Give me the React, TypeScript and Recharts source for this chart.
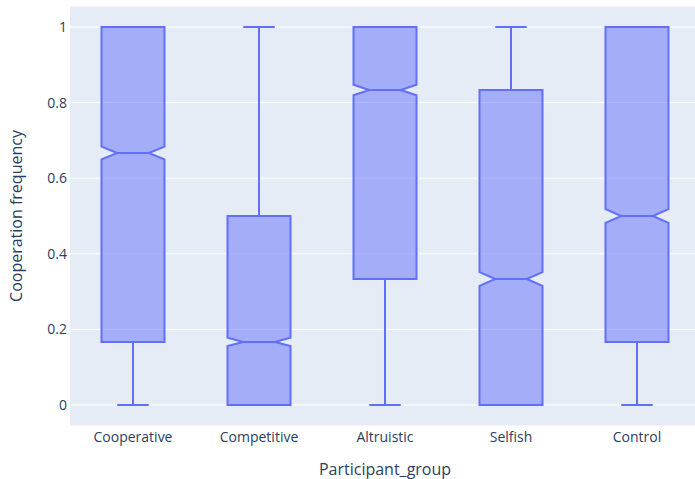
import { ComposedChart, Bar, XAxis, YAxis, CartesianGrid } from 'recharts'

// Box statistics per participant group (cooperation frequency, 0..1)
const groups = ['Cooperative', 'Competitive', 'Altruistic', 'Selfish', 'Control']
const lowerFence = [0, 0, 0, 0, 0]
const q1 = [0.1667, 0, 0.3333, 0, 0.1667]
const median = [0.6667, 0.1667, 0.8333, 0.3333, 0.5]
const q3 = [1, 0.5, 1, 0.8333, 1]
const upperFence = [1, 1, 1, 1, 1]
// half-height of the notch around the median
const notchSpan = [0.017, 0.011, 0.014, 0.018, 0.018]

const yTicks = [0, 0.2, 0.4, 0.6, 0.8, 1]

const LINE = '#636efa'
const FILL = 'rgba(99,110,250,0.5)'
const TEXT = '#2a3f5f'
const FONT = '"Open Sans", sans-serif'

const data = groups.map((group, i) => ({
  group,
  range: [lowerFence[i], upperFence[i]],
  lo: lowerFence[i],
  q1: q1[i],
  median: median[i],
  q3: q3[i],
  hi: upperFence[i],
  notch: notchSpan[i],
}))

function NotchedBox(props: any) {
  const { x, y, width, height, payload } = props
  if (width == null || payload == null) return null
  const top = Math.min(y, y + height)
  const bottom = Math.max(y, y + height)
  const { lo, hi } = payload
  // bar spans lo..hi, so map any value linearly inside it
  const py = (v: number) => bottom - ((v - lo) / (hi - lo)) * (bottom - top)

  const xl = x
  const xr = x + width
  const cx = x + width / 2
  const inset = width / 4

  const yq1 = py(payload.q1)
  const yq3 = py(payload.q3)
  const ym = py(payload.median)
  const nLo = py(Math.max(payload.q1, payload.median - payload.notch))
  const nHi = py(Math.min(payload.q3, payload.median + payload.notch))

  const box = [
    `M${xl},${yq1}`,
    `L${xl},${nLo}`,
    `L${xl + inset},${ym}`,
    `L${xl},${nHi}`,
    `L${xl},${yq3}`,
    `L${xr},${yq3}`,
    `L${xr},${nHi}`,
    `L${xr - inset},${ym}`,
    `L${xr},${nLo}`,
    `L${xr},${yq1}`,
    'Z',
  ].join(' ')

  const yLo = py(lo)
  const yHi = py(hi)

  return (
    <g stroke={LINE} strokeWidth={2} fill="none">
      <path d={`M${cx},${yq3} L${cx},${yHi}`} />
      <path d={`M${cx},${yq1} L${cx},${yLo}`} />
      <path d={`M${cx - inset},${yHi} L${cx + inset},${yHi}`} />
      <path d={`M${cx - inset},${yLo} L${cx + inset},${yLo}`} />
      <path d={box} fill={FILL} strokeLinejoin="miter" />
      <path d={`M${xl + inset},${ym} L${xr - inset},${ym}`} />
    </g>
  )
}

const yTitle = (props: any) => {
  const vb = props.viewBox
  const cy = vb.y + vb.height / 2
  return (
    <text
      x={16}
      y={cy}
      transform={`rotate(-90, 16, ${cy})`}
      textAnchor="middle"
      dominantBaseline="central"
      fill={TEXT}
      fontSize={16}
      fontFamily={FONT}
    >
      Cooperation frequency
    </text>
  )
}

const xTitle = (props: any) => {
  const vb = props.viewBox
  return (
    <text
      x={vb.x + vb.width / 2}
      y={469}
      textAnchor="middle"
      dominantBaseline="central"
      fill={TEXT}
      fontSize={16}
      fontFamily={FONT}
    >
      Participant_group
    </text>
  )
}

export default function App() {
  // plot area runs a few pixels past the right edge and is clipped there
  return (
    <div
      style={{
        position: 'absolute',
        left: 0,
        top: 0,
        width: 695,
        height: 479,
        overflow: 'hidden',
        background: '#fff',
      }}
    >
      <ComposedChart
        width={700}
        height={479}
        data={data}
        margin={{ top: 6, right: 0, bottom: 0, left: 0 }}
        barCategoryGap="25%"
      >
        <CartesianGrid vertical={false} stroke="#fff" strokeWidth={1} fill="#E5ECF6" />
        <XAxis
          dataKey="group"
          type="category"
          height={53}
          axisLine={false}
          tickLine={false}
          tickSize={0}
          tickMargin={6}
          tick={{ fill: TEXT, fontSize: 14, fontFamily: FONT }}
          label={{ content: xTitle }}
        />
        <YAxis
          type="number"
          width={70}
          domain={[-0.0556, 1.0556]}
          ticks={yTicks}
          axisLine={false}
          tickLine={false}
          tickSize={0}
          tickMargin={3}
          tick={{ fill: TEXT, fontSize: 14, fontFamily: FONT }}
          label={{ content: yTitle }}
        />
        <Bar dataKey="range" shape={NotchedBox} isAnimationActive={false} />
      </ComposedChart>
    </div>
  )
}
